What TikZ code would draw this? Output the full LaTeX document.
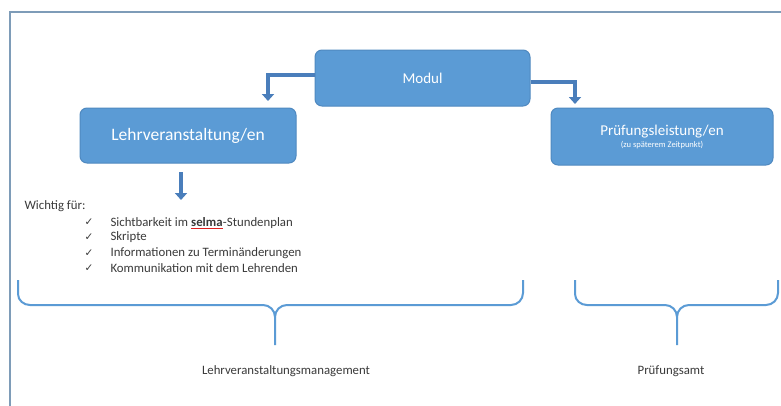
\documentclass[tikz,border=0pt]{standalone}
\usepackage{fontspec}
\setmainfont{Carlito}
\newfontfamily\symfont{DejaVu Sans}
\usepackage{xcolor}
\usepackage{tikz}
\usetikzlibrary{arrows.meta}
\definecolor{boxblue}{HTML}{5B9BD5}
\definecolor{boxline}{HTML}{4F89C0}
\definecolor{arrowblue}{HTML}{4A7EBB}
\definecolor{framegray}{HTML}{7E9CB8}
\definecolor{textgray}{HTML}{3A3A3A}
\definecolor{spellred}{HTML}{E02020}

\begin{document}
\begin{tikzpicture}[x=1pt,y=-1pt,
  box/.style={draw=boxline,fill=boxblue,rounded corners=7pt,text=white,line width=1pt,align=center},
  bentarrow/.style={draw=arrowblue,line width=4pt,-{Triangle[width=12pt,length=7pt]}},
  brace/.style={draw=boxblue,line width=2pt},
  txt/.style={text=textgray,font=\fontsize{12.8}{14}\selectfont}]
\useasboundingbox (0,0) rectangle (781,405);
\fill[white] (0,0) rectangle (781,405);
\draw[framegray,line width=2pt] (10,12) rectangle (795,415);

% boxes
\node[box,minimum width=215pt,minimum height=56pt,font=\fontsize{15}{17}\selectfont] (modul) at (422.5,78) {Modul};
\node[box,minimum width=216pt,minimum height=55pt,font=\fontsize{17.5}{19}\selectfont] (lv) at (188,135.5) {Lehrveranstaltung/en};
\node[box,minimum width=222pt,minimum height=57pt] (pl) at (662,136.5)
  {{\fontsize{15}{16}\selectfont Prüfungsleistung/en}\\[0pt]{\fontsize{8.5}{9}\selectfont (zu späterem Zeitpunkt)}};

% arrows
\coordinate (lvin) at (268,101);
\coordinate (plin) at (575,104);
\coordinate (lvtop) at (181,172);
\coordinate (lvdown) at (181,200);
\draw[bentarrow] (modul.west |- 0,75) -| (lvin);
\draw[bentarrow] (modul.east |- 0,82) -| (plin);
\draw[bentarrow] (lvtop) -- (lvdown);

% list
\node[txt,anchor=west] (wichtig) at (21,206) {Wichtig für:};
\foreach \y/\t [count=\i] in {222/{Sichtbarkeit im}, 237/Skripte,
  253/Informationen zu Terminänderungen, 268/Kommunikation mit dem Lehrenden} {
  \node[txt,font=\symfont\fontsize{10.5}{11}\selectfont] (chk\i) at (89,\y) {✓};
  \node[txt,anchor=west] (item\i) at (107,\y) {\t};
}
\node[txt,anchor=base west,inner xsep=0pt] (selma) at ([xshift=-0.6pt]item1.base east) {\textbf{selma}};
\node[txt,anchor=base west,inner xsep=0pt] (stdplan) at (selma.base east) {-Stundenplan};
\draw[spellred,line width=1pt] ([yshift=-2.5pt]selma.base west) -- ([yshift=-2.5pt]selma.base east);

% braces
\draw[brace] (18,280) -- (18,294) to[out=-90,in=180] (30,305) -- (263,305) to[out=0,in=90] (275,317) -- (275,345);
\draw[brace] (275,317) to[out=90,in=180] (287,305) -- (511,305) to[out=0,in=-90] (523,293) -- (523,280);
\draw[brace] (575,280) -- (575,294) to[out=-90,in=180] (587,305) -- (665,305) to[out=0,in=90] (677,317) -- (677,345);
\draw[brace] (677,317) to[out=90,in=180] (689,305) -- (766,305) to[out=0,in=-90] (778,293) -- (778,280);

\node[txt] (lvm) at (286,371) {Lehrveranstaltungsmanagement};
\node[txt] (pa) at (671,371) {Prüfungsamt};
\end{tikzpicture}
\end{document}
